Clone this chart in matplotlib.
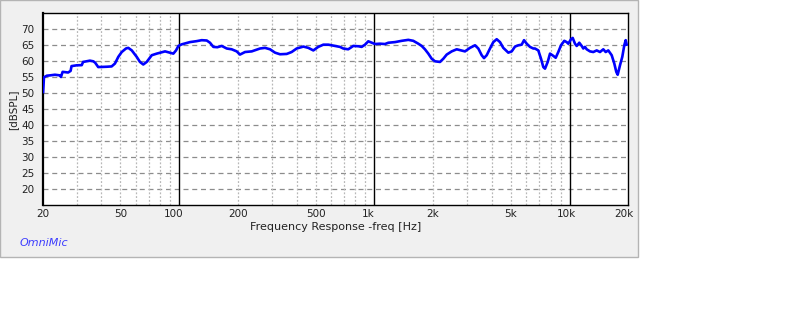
import matplotlib.pyplot as plt
from matplotlib.patches import Rectangle
from matplotlib.ticker import NullLocator
from matplotlib.transforms import ScaledTranslation

# Frequency response
freq = [20.1, 20.3, 21.0, 21.8, 23.1, 24.5, 24.8, 25.3, 27.0, 27.8, 28.1, 29.9,
        31.7, 32.2, 34.9, 36.3, 37.1, 38.5, 42.6, 45.1, 46.9, 48.8, 50.8, 53.4,
        54.9, 57.2, 60.6, 63.0, 65.5, 68.2, 72.4, 76.8, 84.7, 89.8, 93.4, 96.4,
        99.1, 103.1, 113.6, 123, 130.5, 138.5, 143.9, 149.7, 156.9, 165.3, 175.3,
        185.9, 197.2, 204.9, 217.5, 235.4, 259.7, 275.4, 292.2, 309.9, 328.7,
        355.7, 377, 400, 433, 459, 487, 516, 548, 581, 629, 667, 693, 735, 780,
        828, 861, 896, 931, 970, 1008, 1069, 1134, 1179, 1276, 1381, 1493, 1583,
        1680, 1748, 1817, 1890, 1967, 2045, 2169, 2256, 2348, 2491, 2642, 2747,
        2913, 3090, 3279, 3409, 3548, 3646, 3764, 3913, 4069, 4235, 4403, 4578,
        4857, 5056, 5256, 5465, 5688, 5845, 6033, 6273, 6522, 6653, 6918, 7143,
        7339, 7488, 7730, 7942, 8257, 8494, 8758, 9041, 9400, 9670, 9854, 10173,
        10380, 10666, 10881, 11220, 11542, 11762, 12000, 12243, 12729, 13234,
        13775, 14322, 14890, 15318, 15794, 16443, 16954, 17357, 17647, 18133,
        18632, 19075, 19394, 19624]
spl = [50.4, 55.0, 55.5, 55.6, 55.8, 55.6, 55.1, 56.7, 56.5, 57.0, 58.5, 58.75,
       58.8, 59.8, 60.2, 60.0, 59.6, 58.2, 58.3, 58.4, 59.3, 61.4, 62.9, 64.0,
       64.2, 63.4, 61.4, 59.8, 59.0, 59.8, 61.9, 62.4, 63.1, 62.7, 62.4, 63.4,
       64.8, 65.3, 66.0, 66.3, 66.6, 66.5, 65.8, 64.5, 64.4, 64.8, 64.0,
       63.75, 63.1, 62.1, 62.9, 63.1, 64.0, 64.2, 63.75, 62.7, 62.2,
       62.3, 62.9, 64.0, 64.6, 64.2, 63.4, 64.5, 65.2, 65.2, 64.8, 64.5, 64.0, 63.75, 64.8,
       64.7, 64.5, 65.2, 66.25, 65.8, 65.4, 65.5, 65.4, 65.8, 66.0, 66.4, 66.7, 66.4,
       65.5, 64.8, 63.75, 62.4, 60.8, 60.0, 59.8, 60.8, 62.1, 63.1, 63.75, 63.5,
       63.1, 64.2, 65.0, 64.0, 61.9, 61.0, 61.9, 64.0, 66.0, 66.9, 66.0, 64.2,
       62.7, 63.1, 64.6, 65.0, 65.2, 66.6, 65.5, 64.5, 64.0, 64.0, 63.4, 60.8,
       58.2, 57.7, 59.8, 62.4, 61.7, 61.1, 62.9, 65.0, 66.4, 66.0, 65.5, 66.9,
       67.3, 65.5, 64.8, 65.8, 64.8, 64.0, 64.5, 63.75, 63.1, 62.9,
       63.4, 62.9, 63.75, 62.9, 63.4, 61.9, 59.3, 56.7, 55.8, 58.75,
       61.4, 65.0, 66.6, 65.2]

xticks = [20, 50, 100, 200, 500, 1000, 2000, 5000, 10000, 20000]
xticklabels = ['20', '50', '100', '200', '500', '1k', '2k', '5k', '10k', '20k']
yticks = [20, 25, 30, 35, 40, 45, 50, 55, 60, 65, 70]
decades = [100, 1000, 10000]

fig = plt.figure(figsize=(8, 3.23), dpi=100)
fig.patch.set_facecolor('white')

# gray panel behind the chart
panel = Rectangle((0.0, 1 - 257 / 323), 638 / 800, 257 / 323,
                  transform=fig.transFigure, facecolor='#f0f0f0',
                  edgecolor='#b4b4b4', linewidth=1.0, zorder=-10)
fig.add_artist(panel)

ax = fig.add_axes([42.7 / 800, 1 - 205.3 / 323, 585.6 / 800, 192 / 323])
ax.set_zorder(1)
ax.set_facecolor('white')
ax.set_xscale('log')
ax.set_xlim(20, 20000)
ax.set_ylim(15, 75)

# grid
for y in yticks:
    ax.axhline(y, color='#8c8c8c', lw=0.9, ls=(0, (4, 3)), zorder=1)
for d in [10, 100, 1000]:
    for m in range(2, 10):
        f = d * m
        if 20 < f < 20000 and f not in decades:
            ax.axvline(f, color='#b8b8b8', lw=0.9, ls=(0, (1.5, 1.5)), zorder=1)
for f in decades:
    ax.axvline(f, color='black', lw=1.0, zorder=2)

ax.plot(freq, spl, color='#0000ff', lw=1.9, zorder=3, solid_joinstyle='round')

ax.set_xticks(xticks)
ax.set_xticklabels(xticklabels)
ax.xaxis.set_minor_locator(NullLocator())
ax.set_yticks(yticks)
ax.tick_params(length=0, labelsize=7.5, colors='#222222')
ax.tick_params(axis='x', pad=3)
ax.tick_params(axis='y', pad=6)

# the decade labels sit a little left of their lines in the original
shift = {'100': -6, '1k': -6, '10k': -3, '20k': -4}
for lab in ax.get_xticklabels():
    dx = shift.get(lab.get_text(), 0)
    if dx:
        lab.set_transform(lab.get_transform() + ScaledTranslation(dx / 100, 0, fig.dpi_scale_trans))

for s in ax.spines.values():
    s.set_color('black')
    s.set_linewidth(1.0)
ax.spines['left'].set_linewidth(1.6)

ax.set_xlabel('Frequency Response -freq [Hz]', fontsize=8, color='#222222', labelpad=2)
ax.set_ylabel('[dBSPL]', fontsize=7.5, color='#222222')
ax.yaxis.set_label_coords((18 - 42.7) / 585.6, 0.5)

fig.text(20 / 800, 1 - 243 / 323, 'OmniMic', color='#3c3cff', fontsize=8,
         style='italic', va='center', ha='left')

fig.savefig('out.png', dpi=100)
